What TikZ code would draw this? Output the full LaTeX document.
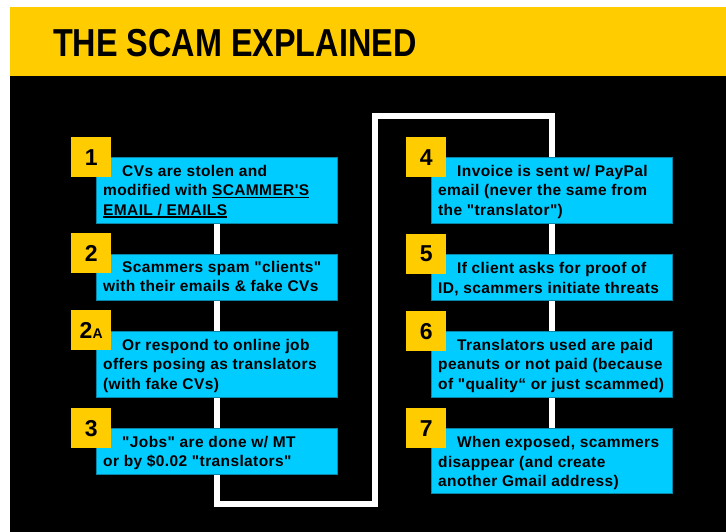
\documentclass[tikz,border=0pt]{standalone}
\usepackage{fontspec}
\newfontfamily\boxfont{Liberation Sans}[LetterSpace=2.5]
\newfontfamily\titlefont{Liberation Sans}[FakeStretch=0.83]
\newfontfamily\numfont{Liberation Sans}
\definecolor{scamyellow}{HTML}{FFCC00}
\definecolor{scamcyan}{HTML}{00CCFF}
\definecolor{cyanedge}{HTML}{0A86A8}
\newsavebox\ulinebox
\newcommand\undl[1]{\leavevmode\sbox\ulinebox{#1}\rlap{\rule[-2.3pt]{\wd\ulinebox}{1.3pt}}\usebox\ulinebox}
\pgfdeclarelayer{bg}
\pgfsetlayers{bg,main}
\begin{document}
\begin{tikzpicture}[x=1pt,y=-1pt,
  numbox/.style={fill=scamyellow, minimum width=40pt, minimum height=40pt, inner sep=0pt, anchor=north west,
    font=\numfont\bfseries\fontsize{23}{23}\selectfont},
  infobox/.style={fill=scamcyan, draw=cyanedge, line width=0.8pt, anchor=north west, inner sep=0pt, minimum width=241pt},
  infotext/.style={anchor=base west, inner sep=0pt, font=\boxfont\bfseries\fontsize{15.5}{19.5}\selectfont},
  flowline/.style={draw=white, line width=5.5pt, line join=miter}
]
\useasboundingbox (0,0) rectangle (726,532);

% title
\node[anchor=base west, inner sep=0pt, font=\titlefont\bfseries\fontsize{39}{39}\selectfont] (title) at (53,57) {THE SCAM EXPLAINED};

% left column
\node[infobox, minimum height=66pt] (c1) at (96,157) {};
\node[infotext] (t1) at (103,176.5) {\parbox[t]{235pt}{\raggedright\hspace*{19pt}CVs are stolen and\\modified with \undl{SCAMMER'S}\\\undl{EMAIL / EMAILS}}};
\node[numbox] (n1) at (71,137) {1};

\node[infobox, minimum height=46pt] (c2) at (96,254) {};
\node[infotext] (t2) at (103,272.5) {\parbox[t]{235pt}{\raggedright\hspace*{19pt}Scammers spam "clients"\\with their emails \& fake CVs}};
\node[numbox] (n2) at (71,233) {2};

\node[infobox, minimum height=66pt] (c2a) at (96,331) {};
\node[infotext] (t2a) at (103,350) {\parbox[t]{235pt}{\raggedright\hspace*{19pt}Or respond to online job\\offers posing as translators\\(with fake CVs)}};
\node[numbox] (n2a) at (71,310) {2\fontsize{14}{14}\selectfont A};

\node[infobox, minimum height=46pt] (c3) at (96,428) {};
\node[infotext] (t3) at (103,447) {\parbox[t]{235pt}{\raggedright\hspace*{19pt}"Jobs" are done w/ MT\\or by \$0.02 "translators"}};
\node[numbox] (n3) at (71,408) {3};

% right column
\node[infobox, minimum height=66pt] (c4) at (431,157) {};
\node[infotext] (t4) at (438,176.5) {\parbox[t]{235pt}{\raggedright\hspace*{19pt}Invoice is sent w/ PayPal\\email (never the same from\\the "translator")}};
\node[numbox] (n4) at (406,137) {4};

\node[infobox, minimum height=46pt] (c5) at (431,254) {};
\node[infotext] (t5) at (438,273.5) {\parbox[t]{235pt}{\raggedright\hspace*{19pt}If client asks for proof of\\ID, scammers initiate threats}};
\node[numbox] (n5) at (406,234) {5};

\node[infobox, minimum height=66pt] (c6) at (431,331) {};
\node[infotext] (t6) at (438,350) {\parbox[t]{235pt}{\raggedright\hspace*{19pt}Translators used are paid\\peanuts or not paid (because\\of "quality“ or just scammed)}};
\node[numbox] (n6) at (406,311) {6};

\node[infobox, minimum height=65pt] (c7) at (431,428) {};
\node[infotext] (t7) at (438,447.5) {\parbox[t]{235pt}{\raggedright\hspace*{19pt}When exposed, scammers\\disappear (and create\\another Gmail address)}};
\node[numbox] (n7) at (406,408) {7};

\coordinate (turnA) at (375,504);
\coordinate (turnB) at (375,116);

\begin{pgfonlayer}{bg}
  \fill[white] (0,0) rectangle (726,532);
  \fill[scamyellow] (10,7) rectangle (726,76);
  \fill[black] (10,76) rectangle (726,532);
  \draw[flowline] (c1.center) -- (c1.center |- turnA) -- (turnA) -- (turnB) -- (c4.center |- turnB) -- (c7.center);
\end{pgfonlayer}
\end{tikzpicture}
\end{document}
